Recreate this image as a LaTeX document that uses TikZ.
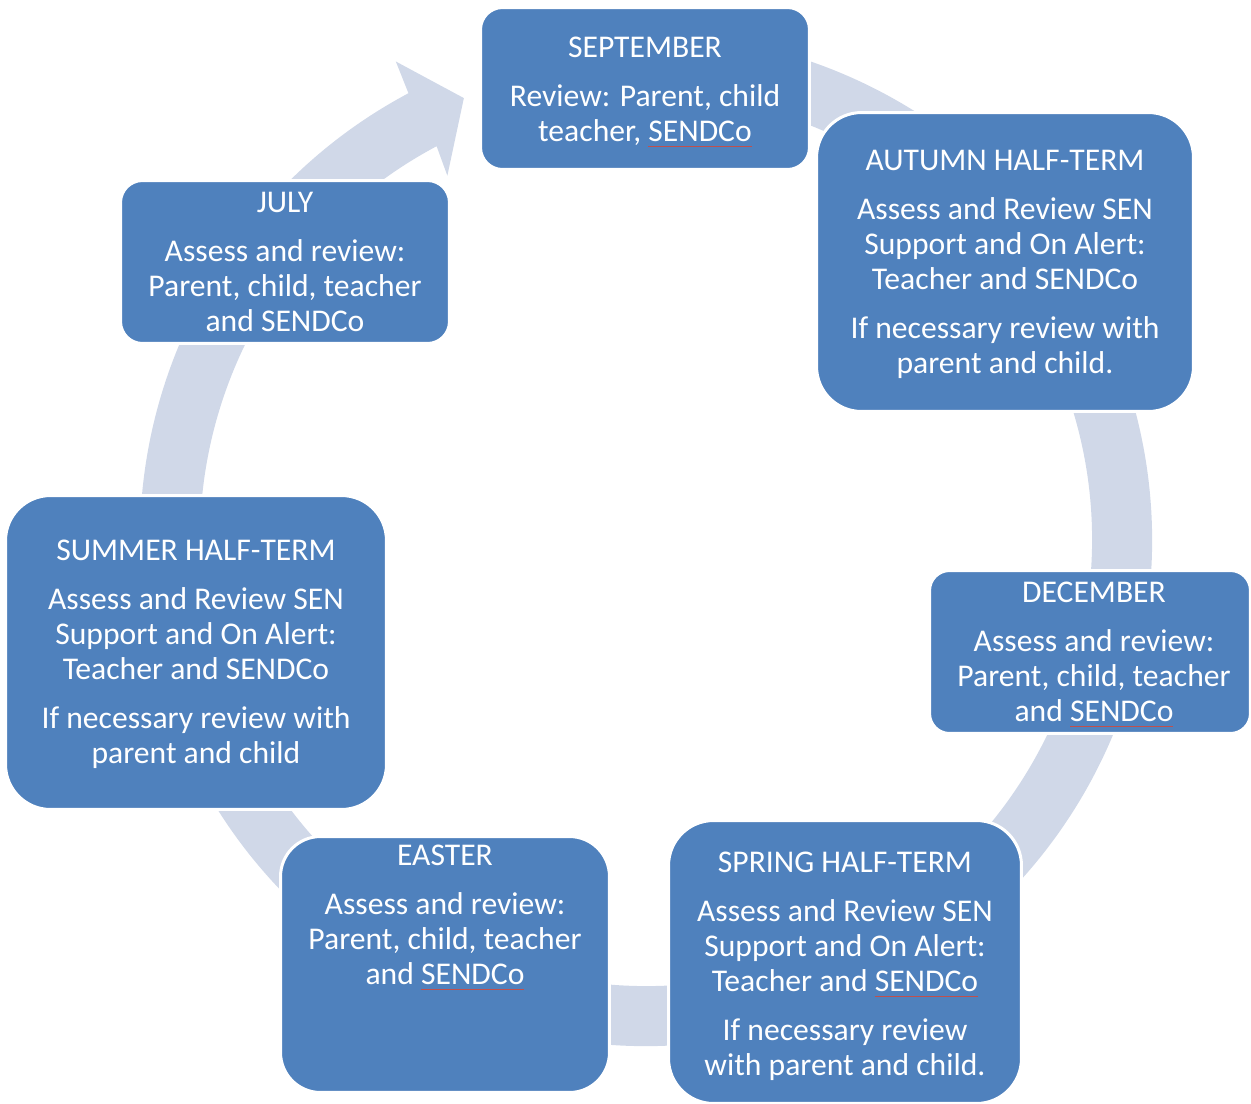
\documentclass[tikz,border=0pt]{standalone}
\usepackage{fontspec}
\setmainfont{Carlito}
\definecolor{boxblue}{HTML}{4F81BD}
\definecolor{ringc}{HTML}{D0D8E8}
\definecolor{squig}{HTML}{C0504D}
\newcommand\spellmark[1]{\setbox0\hbox{#1}\rlap{\color{squig}\rule[-2.6pt]{\wd0}{0.5pt}}\box0}
\tikzset{
  stagebox/.style={draw=white, line width=0.06cm, fill=boxblue, rounded corners=#1, inner sep=0pt, outer sep=0pt},
  stagetext/.style={text=white, align=center, anchor=north, inner sep=0pt, font=\fontsize{18pt}{19.9pt}\selectfont},
  ringband/.style={fill=ringc}
}
\begin{document}
\begin{tikzpicture}[x=0.02cm,y=0.02cm]
\useasboundingbox (0,0) rectangle (1251,-1103);
\coordinate (C) at (646,-540);
% cycle band with arrowhead (July -> September)
\fill[ringband] ([shift={(C)}]105:506) arc[start angle=105,end angle=-242,radius=506]
  -- ([shift={(C)}]117.6:540) -- ([shift={(C)}]112.4:478) -- ([shift={(C)}]118.6:415)
  -- ([shift={(C)}]118:446) arc[start angle=118,end angle=465,radius=446] -- cycle;
% boxes
\node[stagebox=0.44cm, minimum width=6.58cm, minimum height=3.24cm] (sept) at (645,-88.5) {};
\node[stagebox=0.9cm, minimum width=7.54cm, minimum height=5.98cm] (autumn) at (1005,-262) {};
\node[stagebox=0.4cm, minimum width=6.42cm, minimum height=3.26cm] (dec) at (1090,-652) {};
\node[stagebox=0.9cm, minimum width=7.06cm, minimum height=5.66cm] (spring) at (845,-962) {};
\node[stagebox=0.8cm, minimum width=6.58cm, minimum height=5.12cm] (easter) at (445,-964.5) {};
\node[stagebox=0.9cm, minimum width=7.62cm, minimum height=6.28cm] (summer) at (196,-652.5) {};
\node[stagebox=0.44cm, minimum width=6.58cm, minimum height=3.26cm] (july) at (285,-262) {};
% texts
\node[stagetext] (septtext) at (645,-37) {SEPTEMBER\\[8pt]Review: Parent, child\\teacher, \spellmark{SENDCo}};
\node[stagetext] (autumntext) at (1005,-150) {AUTUMN HALF-TERM\\[8pt]Assess and Review SEN\\Support and On Alert:\\Teacher and SENDCo\\[8pt]If necessary review with\\parent and child.};
\node[stagetext] (dectext) at (1094,-582) {DECEMBER\\[8pt]Assess and review:\\Parent, child, teacher\\and \spellmark{SENDCo}};
\node[stagetext] (springtext) at (845,-852) {SPRING HALF-TERM\\[8pt]Assess and Review SEN\\Support and On Alert:\\Teacher and \spellmark{SENDCo}\\[8pt]If necessary review\\with parent and child.};
\node[stagetext] (eastertext) at (445,-845) {EASTER\\[8pt]Assess and review:\\Parent, child, teacher\\and \spellmark{SENDCo}};
\node[stagetext] (summertext) at (196,-540) {SUMMER HALF-TERM\\[8pt]Assess and Review SEN\\Support and On Alert:\\Teacher and SENDCo\\[8pt]If necessary review with\\parent and child};
\node[stagetext] (julytext) at (285,-192) {JULY\\[8pt]Assess and review:\\Parent, child, teacher\\and SENDCo};
\end{tikzpicture}
\end{document}
